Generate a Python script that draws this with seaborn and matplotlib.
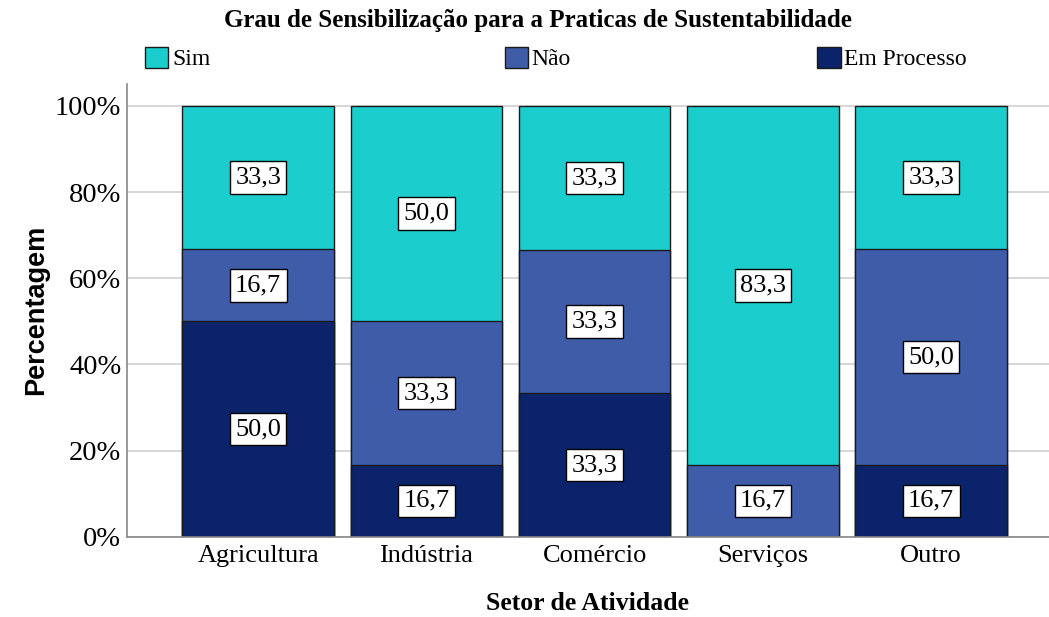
import matplotlib
matplotlib.use("Agg")
import matplotlib.pyplot as plt
import matplotlib.patches as mpatches
import numpy as np
import pandas as pd
import seaborn as sns

# data
setores = ["Agricultura", "Indústria", "Comércio", "Serviços", "Outro"]
respostas = ["Sim", "Não", "Em Processo"]
sim = [33.3, 50.0, 33.3, 83.3, 33.3]
nao = [16.7, 33.3, 33.3, 16.7, 50.0]
em_processo = [50.0, 16.7, 33.3, 0.0, 16.7]
cores = {"Sim": "#1ccdcd", "Não": "#3f5ca8", "Em Processo": "#0b236b"}
yticks = [0, 20, 40, 60, 80, 100]

sns.set_theme(style="white", rc={"text.color": "black", "axes.labelcolor": "black",
                                 "xtick.color": "black", "ytick.color": "black"})
serif = ["Liberation Serif", "DejaVu Serif"]
plt.rcParams["font.family"] = serif

df = pd.DataFrame({"setor": setores, "Sim": sim, "Não": nao, "Em Processo": em_processo})
# stack order from bottom: Em Processo, Não, Sim
df["top_em"] = df["Em Processo"]
df["top_nao"] = df["top_em"] + df["Não"]
df["top_sim"] = df["top_nao"] + df["Sim"]

fig = plt.figure(figsize=(10.49, 6.17), dpi=100)
ax = fig.add_axes([0.121, 0.130, 0.879, 0.734])

for col, resp in [("top_sim", "Sim"), ("top_nao", "Não"), ("top_em", "Em Processo")]:
    sns.barplot(data=df, x="setor", y=col, color=cores[resp], saturation=1,
                width=0.9, edgecolor="#1a1a1a", linewidth=1.0, ax=ax, zorder=2)

# value labels in white boxes at segment centres
for i, row in df.iterrows():
    base = 0.0
    for resp in ["Em Processo", "Não", "Sim"]:
        v = row[resp]
        if v > 0:
            ax.text(i, base + v / 2, f"{v:.1f}".replace(".", ","), ha="center", va="center",
                    fontsize=19, color="black", zorder=5,
                    bbox=dict(boxstyle="square,pad=0.2", fc="white", ec="black", lw=1))
        base += v

ax.set_xlim(-0.78, 4.70)
ax.set_ylim(0, 105.1)
ax.set_yticks(yticks)
ax.set_yticklabels([f"{t}%" for t in yticks], fontsize=20.5)
ax.tick_params(axis="x", labelsize=19, pad=6, length=0)
ax.tick_params(axis="y", pad=4, length=0)
ax.yaxis.grid(True, color="#d0d0d0", lw=1.2, zorder=0)
ax.set_axisbelow(True)
for s in ["top", "right"]:
    ax.spines[s].set_visible(False)
for s in ["left", "bottom"]:
    ax.spines[s].set_color("#888888")
    ax.spines[s].set_linewidth(1.2)

ax.set_xlabel("Setor de Atividade", fontsize=18.5, fontweight="bold", labelpad=18)
ax.set_ylabel("Percentagem", fontsize=19.5, fontweight="bold",
              family=["Liberation Sans", "DejaVu Sans"], labelpad=4)

fig.text(0.513, 0.966, "Grau de Sensibilização para a Praticas de Sustentabilidade",
         ha="center", va="center", fontsize=18, fontweight="bold")

# legend items spread across the top
leg_x = [0.138, 0.481, 0.779]
for resp, x in zip(respostas, leg_x):
    h = mpatches.Patch(facecolor=cores[resp], edgecolor="#1a1a1a", lw=1)
    fig.legend(handles=[h], labels=[resp], loc="center left", bbox_to_anchor=(x, 0.905),
               frameon=False, fontsize=17, handlelength=1.0, handleheight=1.0,
               handletextpad=0.15, borderaxespad=0, borderpad=0)

fig.savefig("out.png", dpi=100)
